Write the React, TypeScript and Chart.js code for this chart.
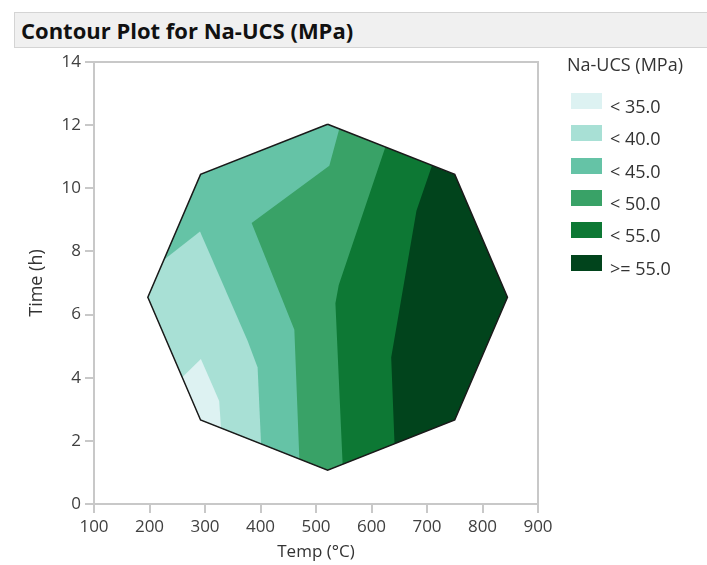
import React, { useEffect, useRef } from "react";
import { Chart, registerables } from "chart.js";

Chart.register(...registerables);

// Design region (octagon), clockwise from the top vertex
const hullTemp = [521, 750, 845, 750, 521, 292, 197, 292];
const hullTime = [12.03, 10.44, 6.55, 2.66, 1.07, 2.66, 6.55, 10.44];

// Contour lines, [temp, time], from the upper/left edge to the lower edge
const line35 = [[259, 4.0], [292.6, 4.59], [325.6, 3.26], [328.7, 2.45]];
const line40 = [[226, 7.7], [291, 8.63], [376.7, 5.17], [394.8, 4.32], [401, 1.95]];
const line45 = [[542, 11.86], [524, 10.71], [384, 8.9], [461, 5.52], [470, 1.44]];
const line50 = [[625, 11.3], [541, 6.94], [535, 6.36], [548, 1.25]];
const line55 = [[709, 10.7], [681, 9.29], [635.5, 4.64], [641.5, 1.9]];

const levelLabels = ["< 35.0", "< 40.0", "< 45.0", "< 50.0", "< 55.0", ">= 55.0"];
const levelColors = ["#ddf2f2", "#a8e0d5", "#65c3a6", "#39a267", "#0d7834", "#01441c"];

const xTicksMin = 100;
const xTicksMax = 900;
const yTicksMin = 0;
const yTicksMax = 14;

const FONT = "'Open Sans', 'Noto Sans', sans-serif";

type Pt = { x: number; y: number };

const hull: Pt[] = hullTemp.map((t, i) => ({ x: t, y: hullTime[i] }));

// find the hull edge closest to an end point and put the point on it
function snap(p: number[]): { pt: Pt; edge: number } {
  let best = { pt: { x: p[0], y: p[1] }, edge: 0 };
  let bestD = Infinity;
  for (let k = 0; k < hull.length; k++) {
    const a = hull[k];
    const b = hull[(k + 1) % hull.length];
    const lo = Math.min(a.x, b.x);
    const hi = Math.max(a.x, b.x);
    if (p[0] < lo || p[0] > hi) continue;
    const y = a.y + ((p[0] - a.x) / (b.x - a.x)) * (b.y - a.y);
    const d = Math.abs(y - p[1]);
    if (d < bestD) {
      bestD = d;
      best = { pt: { x: p[0], y }, edge: k };
    }
  }
  return best;
}

// region left of a contour line, closed along the hull
function leftRegion(line: number[][]): Pt[] {
  const s = snap(line[0]);
  const e = snap(line[line.length - 1]);
  const pts: Pt[] = [s.pt];
  for (let i = 1; i < line.length - 1; i++) pts.push({ x: line[i][0], y: line[i][1] });
  pts.push(e.pt);
  const n = hull.length;
  let i = (e.edge + 1) % n;
  const stop = (s.edge + 1) % n;
  while (i !== stop) {
    pts.push(hull[i]);
    i = (i + 1) % n;
  }
  return pts;
}

const frame = {
  id: "frame",
  beforeDatasetsDraw(chart: Chart) {
    const { ctx, chartArea } = chart;
    ctx.save();
    ctx.strokeStyle = "#c8c8c8";
    ctx.lineWidth = 2;
    ctx.beginPath();
    ctx.moveTo(chartArea.left, chartArea.top);
    ctx.lineTo(chartArea.right, chartArea.top);
    ctx.lineTo(chartArea.right, chartArea.bottom);
    ctx.stroke();
    ctx.restore();
  },
};

function ContourChart() {
  const canvasRef = useRef<HTMLCanvasElement>(null);

  useEffect(() => {
    if (!canvasRef.current) return;
    const regions = [line35, line40, line45, line50, line55].map(leftRegion);
    const band = (data: Pt[], color: string) => ({
      data,
      showLine: true,
      fill: "shape" as const,
      backgroundColor: color,
      borderWidth: 0,
      borderColor: color,
      pointRadius: 0,
      tension: 0,
    });

    const chart = new Chart(canvasRef.current, {
      type: "scatter",
      data: {
        datasets: [
          {
            data: [...hull, hull[0]],
            showLine: true,
            fill: false,
            borderColor: "#1a1a1a",
            borderWidth: 1.5,
            pointRadius: 0,
            tension: 0,
          },
          ...regions.map((r, i) => band(r, levelColors[i])),
          band(hull, levelColors[5]),
        ],
      },
      options: {
        animation: false,
        responsive: false,
        layout: { padding: { left: 0, top: 62, right: 169, bottom: 0 } },
        plugins: {
          legend: { display: false },
          tooltip: { enabled: false },
        },
        scales: {
          x: {
            type: "linear",
            min: xTicksMin,
            max: xTicksMax,
            afterFit: (s: any) => {
              s.height = 61;
            },
            ticks: {
              stepSize: 100,
              padding: 4,
              color: "#404040",
              font: { family: FONT, size: 17 },
            },
            grid: {
              drawOnChartArea: false,
              drawTicks: true,
              tickLength: 9,
              color: "#c8c8c8",
              lineWidth: 2,
            },
            border: { display: true, color: "#c8c8c8", width: 2 },
            title: {
              display: true,
              text: "Temp (°C)",
              color: "#333333",
              font: { family: FONT, size: 17 },
              padding: { top: 0, bottom: 3 },
            },
          },
          y: {
            type: "linear",
            min: yTicksMin,
            max: yTicksMax,
            afterFit: (s: any) => {
              s.width = 94;
            },
            ticks: {
              stepSize: 2,
              padding: 4,
              color: "#404040",
              font: { family: FONT, size: 17 },
            },
            grid: {
              drawOnChartArea: false,
              drawTicks: true,
              tickLength: 9,
              color: "#c8c8c8",
              lineWidth: 2,
            },
            border: { display: true, color: "#c8c8c8", width: 2 },
            title: {
              display: true,
              text: "Time (h)",
              color: "#333333",
              font: { family: FONT, size: 18 },
              padding: { top: 26, bottom: 0 },
            },
          },
        },
      },
      plugins: [frame],
    });

    return () => chart.destroy();
  }, []);

  return (
    <canvas
      ref={canvasRef}
      width={707}
      height={565}
      style={{ position: "absolute", left: 0, top: 0, width: 707, height: 565 }}
    />
  );
}

export default function App() {
  return (
    <div
      style={{
        position: "fixed",
        left: 0,
        top: 0,
        width: 707,
        height: 565,
        background: "#ffffff",
        fontFamily: FONT,
        overflow: "hidden",
      }}
    >
      <ContourChart />
      <div
        style={{
          position: "absolute",
          left: 14,
          top: 12,
          width: 700,
          height: 34,
          background: "#f0f0f0",
          border: "1px solid #d4d4d4",
          boxSizing: "content-box",
          fontWeight: 700,
          fontSize: 22,
          lineHeight: "34px",
          paddingLeft: 6,
          color: "#111111",
        }}
      >
        Contour Plot for Na-UCS (MPa)
      </div>
      <div
        style={{
          position: "absolute",
          left: 567,
          top: 52,
          fontSize: 18,
          color: "#333333",
          whiteSpace: "nowrap",
        }}
      >
        Na-UCS (MPa)
      </div>
      {levelLabels.map((label, i) => (
        <div key={label} style={{ position: "absolute", left: 571, top: 93 + i * 32.3 }}>
          <div
            style={{
              position: "absolute",
              left: 0,
              top: 0,
              width: 31,
              height: 16,
              background: levelColors[i],
            }}
          />
          <div
            style={{
              position: "absolute",
              left: 39,
              top: 2,
              fontSize: 18,
              lineHeight: "22px",
              color: "#333333",
              whiteSpace: "nowrap",
            }}
          >
            {label}
          </div>
        </div>
      ))}
    </div>
  );
}
